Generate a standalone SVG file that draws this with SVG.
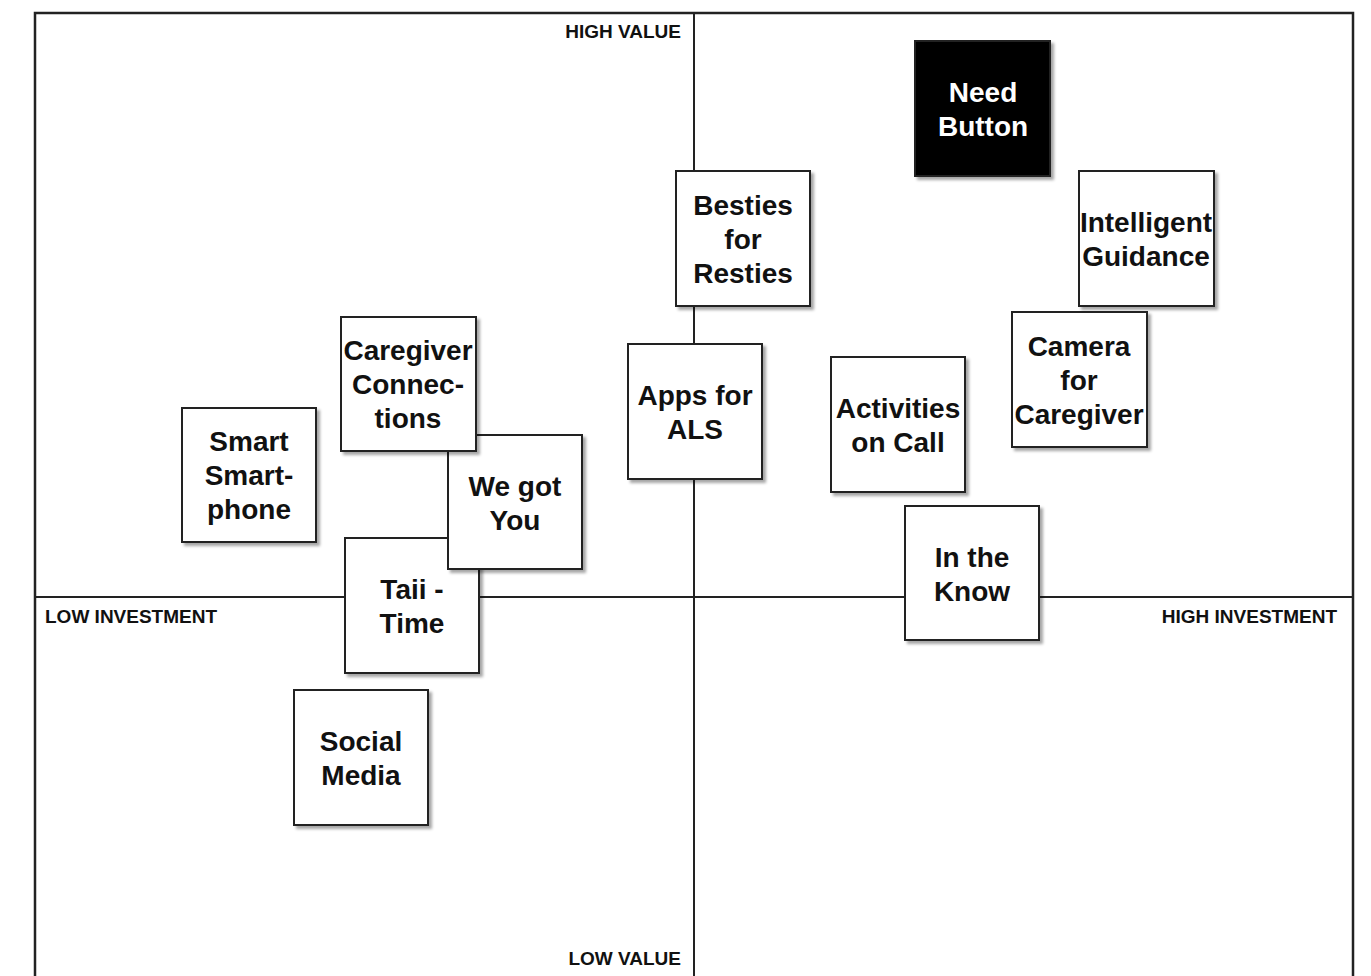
<svg xmlns="http://www.w3.org/2000/svg" width="1371" height="976" viewBox="0 0 1371 976">
<defs>
<filter id="sh" x="-10%" y="-10%" width="130%" height="130%">
<feDropShadow dx="3" dy="3" stdDeviation="1.5" flood-color="#000" flood-opacity="0.35"/>
</filter>
</defs>
<style>
.frame{fill:none;stroke:#222;stroke-width:2.5}
.axis{stroke:#222;stroke-width:2}
.box{fill:#fff;stroke:#222;stroke-width:2;filter:url(#sh)}
.dark{fill:#000;stroke:#222;stroke-width:2;filter:url(#sh)}
.t{font-family:"Liberation Sans",Arial,sans-serif;font-weight:bold;font-size:28px;fill:#111;text-anchor:middle}
.w{fill:#fff}
.lab{font-family:"Liberation Sans",Arial,sans-serif;font-weight:bold;font-size:19px;fill:#111}
</style>
<rect width="1371" height="976" fill="#fff"/>
<g id="axes">
<rect class="frame" x="35" y="13" width="1318" height="990"/>
<line class="axis" x1="694" y1="13" x2="694" y2="976"/>
<line class="axis" x1="35" y1="597" x2="1353" y2="597"/>
<text class="lab" x="681" y="38" text-anchor="end">HIGH VALUE</text>
<text class="lab" x="681" y="965" text-anchor="end">LOW VALUE</text>
<text class="lab" x="45" y="623">LOW INVESTMENT</text>
<text class="lab" x="1337" y="623" text-anchor="end">HIGH INVESTMENT</text>
</g>
<g id="connectors"></g>
<g id="need-button"><rect class="dark" x="915" y="41" width="135" height="135"/><text class="t w" x="983" y="102">Need</text><text class="t w" x="983" y="136">Button</text></g>
<g id="besties"><rect class="box" x="676" y="171" width="134" height="135"/><text class="t" x="743" y="215">Besties</text><text class="t" x="743" y="249">for</text><text class="t" x="743" y="283">Resties</text></g>
<g id="intelligent"><rect class="box" x="1079" y="171" width="135" height="135"/><text class="t" x="1146" y="232">Intelligent</text><text class="t" x="1146" y="266">Guidance</text></g>
<g id="camera"><rect class="box" x="1012" y="312" width="135" height="135"/><text class="t" x="1079" y="356">Camera</text><text class="t" x="1079" y="390">for</text><text class="t" x="1079" y="424">Caregiver</text></g>
<g id="apps"><rect class="box" x="628" y="344" width="134" height="135"/><text class="t" x="695" y="405">Apps for</text><text class="t" x="695" y="439">ALS</text></g>
<g id="activities"><rect class="box" x="831" y="357" width="134" height="135"/><text class="t" x="898" y="418">Activities</text><text class="t" x="898" y="452">on Call</text></g>
<g id="smart"><rect class="box" x="182" y="408" width="134" height="134"/><text class="t" x="249" y="451">Smart</text><text class="t" x="249" y="485">Smart-</text><text class="t" x="249" y="519">phone</text></g>
<g id="in-the-know"><rect class="box" x="905" y="506" width="134" height="134"/><text class="t" x="972" y="567">In the</text><text class="t" x="972" y="601">Know</text></g>
<g id="taii"><rect class="box" x="345" y="538" width="134" height="135"/><text class="t" x="412" y="599">Taii -</text><text class="t" x="412" y="633">Time</text></g>
<g id="we-got-you"><rect class="box" x="448" y="435" width="134" height="134"/><text class="t" x="515" y="496">We got</text><text class="t" x="515" y="530">You</text></g>
<g id="caregiver"><rect class="box" x="341" y="317" width="135" height="134"/><text class="t" x="408" y="360">Caregiver</text><text class="t" x="408" y="394">Connec-</text><text class="t" x="408" y="428">tions</text></g>
<g id="social"><rect class="box" x="294" y="690" width="134" height="135"/><text class="t" x="361" y="751">Social</text><text class="t" x="361" y="785">Media</text></g>
</svg>
